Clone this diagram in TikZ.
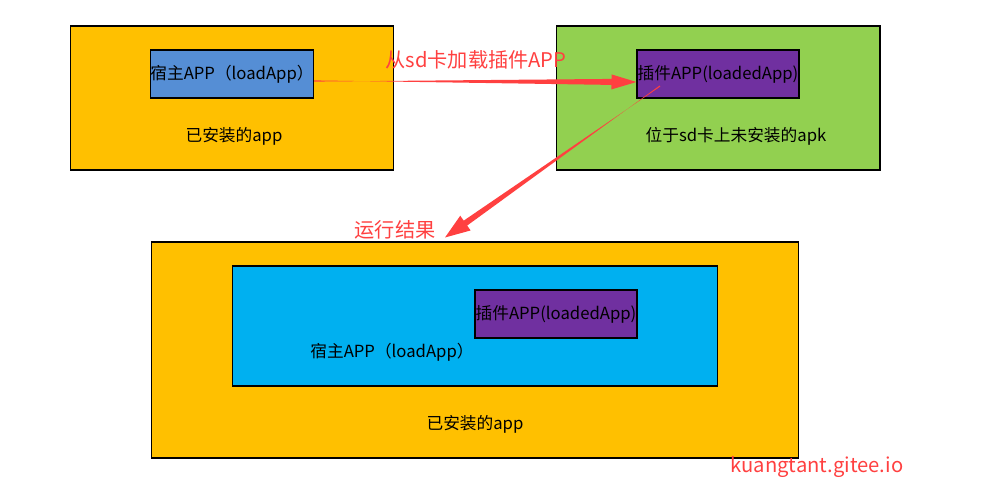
\documentclass[tikz,border=0pt]{standalone}
\usepackage{fontspec}
\setmainfont{Noto Sans CJK SC}
\usetikzlibrary{calc,positioning}
\definecolor{appyellow}{RGB}{255,192,0}
\definecolor{appblue}{RGB}{85,142,213}
\definecolor{appgreen}{RGB}{146,208,80}
\definecolor{apppurple}{RGB}{112,48,160}
\definecolor{appcyan}{RGB}{0,176,240}
\definecolor{appred}{RGB}{255,64,64}

\begin{document}
\begin{tikzpicture}[
  x=0.02cm, y=-0.02cm,
  every node/.style={font=\fontsize{9.5pt}{11pt}\selectfont},
  outerbox/.style={draw=black,line width=0.6pt,fill=appyellow,minimum width=6.48cm,minimum height=2.88cm,inner sep=0pt},
  innerbox/.style={draw=black,line width=0.6pt,minimum width=3.24cm,minimum height=0.96cm,inner sep=0pt},
  redlabel/.style={text=appred,font=\fontsize{11.5pt}{13pt}\selectfont},
]
  \useasboundingbox (0,0) rectangle (995,489);

  % installed host app
  \node[outerbox] (hostbox) at (232,98) {};
  \node[innerbox,fill=appblue] (hostapp) at (232,74) {宿主APP（loadApp）};
  \node (hostlbl) at (234,136) {已安装的app};

  % plugin apk on sd card
  \node[outerbox,fill=appgreen] (sdbox) at (718,98) {};
  \node[innerbox,fill=apppurple] (plugapp) at (718,74) {插件APP(loadedApp)};
  \node (sdlbl) at (736,136) {位于sd卡上未安装的apk};

  % result
  \node[outerbox,minimum width=12.96cm,minimum height=4.32cm] (result) at (475,350) {};
  \node[draw=black,line width=0.6pt,fill=appcyan,minimum width=9.72cm,minimum height=2.4cm] (resulthost) at (475,326) {};
  \node[innerbox,fill=apppurple] (resultplug) at (556,314) {插件APP(loadedApp)};
  \node (resulthostlbl) at (392,352) {宿主APP（loadApp）};
  \node (resultlbl) at (475,424) {已安装的app};

  % load arrow
  \coordinate (a1s) at ([yshift=-0.14cm]hostapp.east);
  \coordinate (a1e) at ([yshift=-0.16cm]plugapp.west);
  \coordinate (h1) at ($(a1e)!0.5cm!(a1s)$);
  \fill[appred] ($(a1s)!0.012cm!-90:(a1e)$) -- ($(h1)!0.06cm!90:(a1e)$) -- ($(h1)!0.15cm!90:(a1e)$) -- (a1e)
    -- ($(h1)!0.15cm!-90:(a1e)$) -- ($(h1)!0.06cm!-90:(a1e)$) -- ($(a1s)!0.012cm!90:(a1e)$) -- cycle;
  \node[redlabel] (loadlbl) at (476,60) {从sd卡加载插件APP};

  % result arrow
  \coordinate (a2s) at (660,86);
  \coordinate (a2e) at ([xshift=-0.6cm,yshift=0.08cm]result.north);
  \coordinate (h2) at ($(a2e)!0.5cm!(a2s)$);
  \fill[appred] ($(a2s)!0.012cm!-90:(a2e)$) -- ($(h2)!0.06cm!90:(a2e)$) -- ($(h2)!0.18cm!90:(a2e)$) -- (a2e)
    -- ($(h2)!0.18cm!-90:(a2e)$) -- ($(h2)!0.06cm!-90:(a2e)$) -- ($(a2s)!0.012cm!90:(a2e)$) -- cycle;
  \node[redlabel] (runlbl) at (395,230) {运行结果};

  \node[redlabel] (site) at (817,467) {kuangtant.gitee.io};
\end{tikzpicture}
\end{document}
